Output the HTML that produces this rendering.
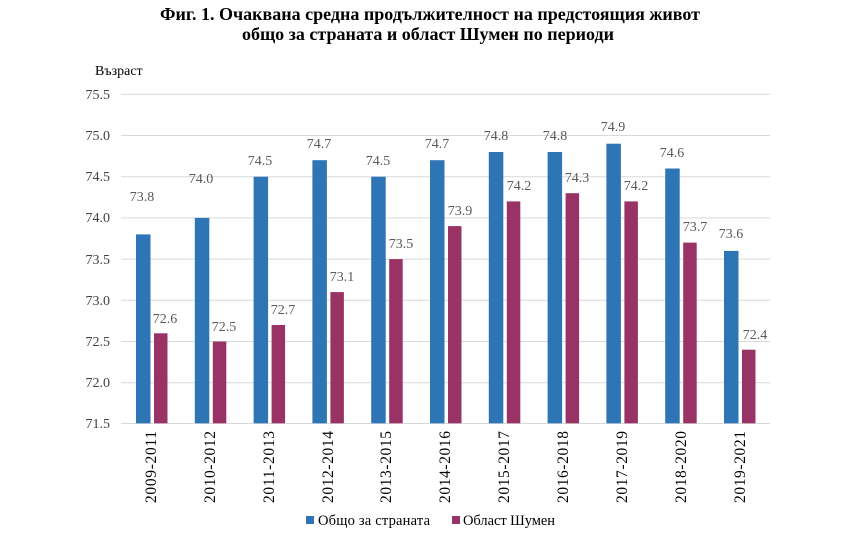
<!DOCTYPE html>
<html><head><meta charset="utf-8"><style>
body{margin:0;background:#fff}
svg{display:block}
text{font-family:"Liberation Serif",serif}
.t{font-size:18px;font-weight:bold;fill:#000}
.y{font-size:14px;fill:#404040}
.v{font-size:14px;fill:#595959}
.c{font-size:15.5px;fill:#000}
</style></head><body>
<svg width="866" height="538" viewBox="0 0 866 538">
<text class="t" x="430" y="20" text-anchor="middle">Фиг. 1. Очаквана средна продължителност на предстоящия живот</text>
<text class="t" x="428" y="40" text-anchor="middle">общо за страната и област Шумен по периоди</text>
<text x="95" y="75" style="font-size:14px">Възраст</text>
<g stroke="#d9d9d9" stroke-width="1">
<line x1="121" x2="770" y1="94.3" y2="94.3"/><line x1="121" x2="770" y1="135.5" y2="135.5"/>
<line x1="121" x2="770" y1="176.7" y2="176.7"/><line x1="121" x2="770" y1="217.9" y2="217.9"/>
<line x1="121" x2="770" y1="259.1" y2="259.1"/><line x1="121" x2="770" y1="300.3" y2="300.3"/>
<line x1="121" x2="770" y1="341.5" y2="341.5"/><line x1="121" x2="770" y1="382.7" y2="382.7"/>
<line x1="121" x2="770" y1="423.5" y2="423.5"/>
</g>
<g class="y" text-anchor="end">
<text x="110" y="99">75.5</text><text x="110" y="140">75.0</text><text x="110" y="181">74.5</text>
<text x="110" y="222">74.0</text><text x="110" y="264">73.5</text><text x="110" y="305">73.0</text>
<text x="110" y="346">72.5</text><text x="110" y="387">72.0</text><text x="110" y="428">71.5</text>
</g>
<g fill="#2e75b6">
<rect x="136" y="234.4" width="14.5" height="188.9"/>
<rect x="194.8" y="217.9" width="14.5" height="205.4"/>
<rect x="253.6" y="176.7" width="14.5" height="246.6"/>
<rect x="312.4" y="160.2" width="14.5" height="263.1"/>
<rect x="371.2" y="176.7" width="14.5" height="246.6"/>
<rect x="430" y="160.2" width="14.5" height="263.1"/>
<rect x="488.8" y="152" width="14.5" height="271.3"/>
<rect x="547.6" y="152" width="14.5" height="271.3"/>
<rect x="606.4" y="143.7" width="14.5" height="279.6"/>
<rect x="665.2" y="168.5" width="14.5" height="254.8"/>
<rect x="724" y="250.9" width="14.5" height="172.4"/>
</g>
<g fill="#993366">
<rect x="154" y="333.3" width="13.5" height="90"/>
<rect x="212.8" y="341.5" width="13.5" height="81.8"/>
<rect x="271.6" y="325" width="13.5" height="98.3"/>
<rect x="330.4" y="292.1" width="13.5" height="131.2"/>
<rect x="389.2" y="259.1" width="13.5" height="164.2"/>
<rect x="448" y="226.1" width="13.5" height="197.2"/>
<rect x="506.8" y="201.4" width="13.5" height="221.9"/>
<rect x="565.6" y="193.2" width="13.5" height="230.1"/>
<rect x="624.4" y="201.4" width="13.5" height="221.9"/>
<rect x="683.2" y="242.6" width="13.5" height="180.7"/>
<rect x="742" y="349.7" width="13.5" height="73.6"/>
</g>
<g class="v" text-anchor="middle">
<text x="142" y="201">73.8</text><text x="201" y="183">74.0</text><text x="260" y="165">74.5</text>
<text x="319" y="148">74.7</text><text x="378" y="165">74.5</text><text x="437" y="148">74.7</text>
<text x="496" y="140">74.8</text><text x="555" y="140">74.8</text><text x="613" y="131">74.9</text>
<text x="672" y="157">74.6</text><text x="731" y="238">73.6</text>
<text x="165" y="323">72.6</text><text x="224" y="331">72.5</text><text x="283" y="314">72.7</text>
<text x="342" y="281">73.1</text><text x="401" y="248">73.5</text><text x="460" y="215">73.9</text>
<text x="519" y="190">74.2</text><text x="577" y="182">74.3</text><text x="636" y="190">74.2</text>
<text x="695" y="231">73.7</text><text x="755" y="339">72.4</text>
</g>
<g class="c" text-anchor="end">
<text transform="translate(156,431) rotate(-90)" textLength="72">2009-2011</text>
<text transform="translate(215,431) rotate(-90)" textLength="72">2010-2012</text>
<text transform="translate(274,431) rotate(-90)" textLength="72">2011-2013</text>
<text transform="translate(333,431) rotate(-90)" textLength="72">2012-2014</text>
<text transform="translate(391,431) rotate(-90)" textLength="72">2013-2015</text>
<text transform="translate(450,431) rotate(-90)" textLength="72">2014-2016</text>
<text transform="translate(509,431) rotate(-90)" textLength="72">2015-2017</text>
<text transform="translate(568,431) rotate(-90)" textLength="72">2016-2018</text>
<text transform="translate(627,431) rotate(-90)" textLength="72">2017-2019</text>
<text transform="translate(686,431) rotate(-90)" textLength="72">2018-2020</text>
<text transform="translate(745,431) rotate(-90)" textLength="72">2019-2021</text>
</g>
<rect x="306" y="516" width="8" height="8" fill="#2e75b6"/>
<text x="318" y="525" style="font-size:14.5px" textLength="112">Общо за страната</text>
<rect x="452" y="516" width="8" height="8" fill="#993366"/>
<text x="463" y="525" style="font-size:14.5px" textLength="92">Област Шумен</text>
</svg>
</body></html>
